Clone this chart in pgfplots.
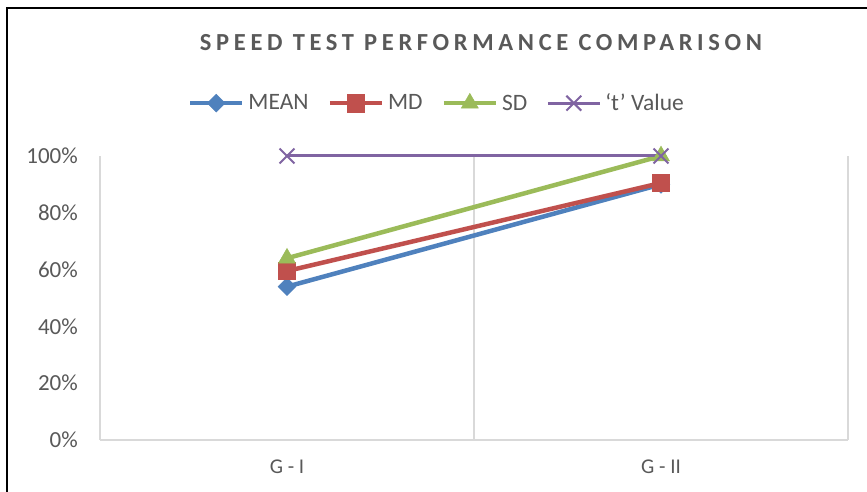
\documentclass[border=0pt]{standalone}
\usepackage{fontspec}
\setmainfont{Carlito}
\usepackage{pgfplots}
\pgfplotsset{compat=1.18}
\definecolor{cblue}{HTML}{4F81BD}
\definecolor{cred}{HTML}{C0504D}
\definecolor{cgreen}{HTML}{9BBB59}
\definecolor{cpurple}{HTML}{8064A2}
\definecolor{ctext}{HTML}{595959}
\definecolor{cgrid}{HTML}{D9D9D9}
\begin{document}
\begin{tikzpicture}
\useasboundingbox (0pt,0pt) rectangle (867pt,492pt);
\fill[white] (0pt,0pt) rectangle (867pt,492pt);
\draw[black, line width=2pt] (6.5pt,-5pt) -- (6.5pt,483.5pt) -- (875pt,483.5pt);
\node[anchor=base, text=ctext, inner sep=0pt, font=\fontsize{24.5}{29}\selectfont\bfseries\addfontfeatures{LetterSpace=19}] at (481pt,441pt) {SPEED TEST PERFORMANCE COMPARISON};
\begin{axis}[
  at={(100pt,52pt)}, anchor=south west, scale only axis,
  width=748pt, height=284pt,
  xmin=-0.5, xmax=1.5, ymin=0, ymax=100,
  clip=false,
  xtick={0,1}, xticklabels={G - I, G - II},
  minor xtick={-0.5,0.5,1.5}, xminorgrids,
  minor grid style={cgrid, line width=1.5pt},
  ytick={0,20,40,60,80,100},
  yticklabel={\pgfmathprintnumber{\tick}\%},
  major tick length=0pt, minor tick length=0pt,
  axis lines*=left,
  axis line style={cgrid, line width=1.5pt, -},
  ticklabel style={font=\fontsize{23}{28}\selectfont, text=ctext},
  /pgf/number format/assume math mode=true,
  yticklabel style={inner sep=0pt, xshift=-22pt},
  xticklabel style={inner sep=0pt, yshift=-20pt, font=\fontsize{21}{25}\selectfont},
  legend columns=4,
  legend cell align=left,
  legend style={at={(0.449,1.187)}, anchor=center, draw=none, fill=none,
    font=\fontsize{23.5}{28}\selectfont, text=ctext, nodes={inner sep=0pt},
    /tikz/every odd column/.append style={column sep=4pt},
    /tikz/every even column/.append style={column sep=19pt}},
  legend image code/.code={\draw[mark repeat=2,mark phase=2,#1] plot coordinates {(0pt,0pt) (26pt,0pt) (52pt,0pt)};},
]
\addplot[cblue, line width=4.5pt, mark=square*, mark size=6.3pt,
  mark options={rotate=45, line width=0.5pt, fill=cblue}] coordinates {(0,54) (1,90)};
\addlegendentry{MEAN}
\addplot[cred, line width=4.5pt, mark=square*, mark size=8.7pt,
  mark options={line width=0.5pt, fill=cred}] coordinates {(0,59.5) (1,90.5)};
\addlegendentry{MD}
\addplot[cgreen, line width=4.5pt, mark=triangle*, mark size=9.8pt,
  mark options={line width=0.5pt, fill=cgreen}] coordinates {(0,64) (1,100)};
\addlegendentry{SD}
\addplot[cpurple, line width=3pt, mark=x, mark size=10.5pt,
  mark options={line width=2pt}] coordinates {(0,100) (1,100)};
\addlegendentry{‘t’ Value}
\end{axis}
\end{tikzpicture}
\end{document}
